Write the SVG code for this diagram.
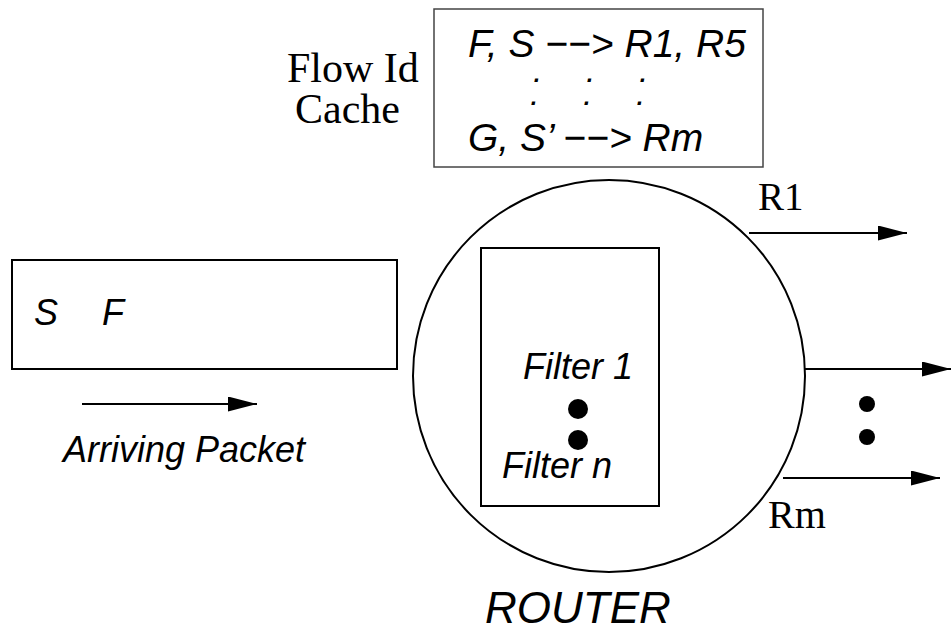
<svg xmlns="http://www.w3.org/2000/svg" width="951" height="634" viewBox="0 0 951 634">
<style>
.box{fill:none;stroke:#000;stroke-width:2}
.conn{fill:none;stroke:#000;stroke-width:2}
.sans{font-family:"Liberation Sans",Arial,sans-serif;font-style:italic;fill:#000}
.serif{font-family:"Liberation Serif","Times New Roman",serif;fill:#000}
</style>
<defs>
<marker id="arr" markerUnits="userSpaceOnUse" markerWidth="30" markerHeight="16" refX="29" refY="7.5" orient="auto">
<path d="M0,0 L29,7.5 L0,15 Z" fill="#000"/>
</marker>
</defs>
<rect width="951" height="634" fill="#fff"/>
<g id="cache">
<rect x="434" y="9" width="329" height="158" fill="none" stroke="#444" stroke-width="1.5"/>
<text class="sans" x="468" y="57" font-size="39">F, S −−&gt; R1, R5</text>
<text class="sans" x="533 586 639" y="82" font-size="34">...</text>
<text class="sans" x="530 583 636" y="105" font-size="34">...</text>
<text class="sans" x="468" y="151" font-size="39">G, S’ −−&gt; Rm</text>
</g>
<g id="cache-label">
<text class="serif" x="287" y="82" font-size="42">Flow Id</text>
<text class="serif" x="295" y="123" font-size="42">Cache</text>
</g>
<g id="packet">
<rect class="box" x="12" y="260" width="385" height="109"/>
<text class="sans" x="34" y="325" font-size="36">S</text>
<text class="sans" x="102" y="325" font-size="36">F</text>
</g>
<g id="arriving-label">
<text class="sans" x="63" y="462" font-size="36">Arriving Packet</text>
</g>
<g id="router">
<circle cx="609" cy="376" r="196" fill="none" stroke="#000" stroke-width="2"/>
<text class="sans" x="485" y="623" font-size="44">ROUTER</text>
</g>
<g id="filters">
<rect class="box" x="481" y="248" width="178" height="258"/>
<text class="sans" x="523" y="379" font-size="36">Filter 1</text>
<circle cx="578" cy="409" r="10" fill="#000"/>
<circle cx="578" cy="440" r="10" fill="#000"/>
<text class="sans" x="502" y="478" font-size="36">Filter n</text>
</g>
<g id="outputs">
<text class="serif" x="758" y="210" font-size="39">R1</text>
<circle cx="867" cy="404" r="8" fill="#000"/>
<circle cx="867" cy="437" r="8" fill="#000"/>
<text class="serif" x="768" y="528" font-size="40">Rm</text>
</g>
<g id="connectors">
<line class="conn" x1="82" y1="404" x2="257" y2="404" marker-end="url(#arr)"/>
<line class="conn" x1="749" y1="233" x2="907" y2="233" marker-end="url(#arr)"/>
<line class="conn" x1="805" y1="369" x2="951" y2="369" marker-end="url(#arr)"/>
<line class="conn" x1="783" y1="478" x2="940" y2="478" marker-end="url(#arr)"/>
</g>
</svg>
